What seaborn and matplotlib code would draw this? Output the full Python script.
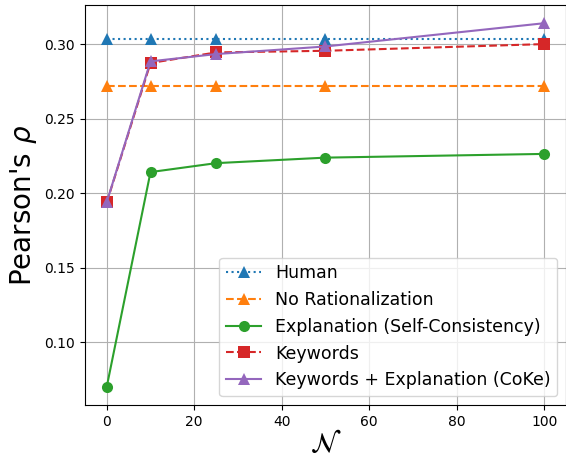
import pandas as pd
import matplotlib
matplotlib.use('Agg')
import matplotlib.pyplot as plt
import seaborn as sns

n_values = [0, 10, 25, 50, 100]

human = [0.3033, 0.3033, 0.3033, 0.3033, 0.3033]
no_rationalization = [0.2716, 0.2716, 0.2716, 0.2716, 0.2716]
explanation = [0.0701, 0.2141, 0.2201, 0.2238, 0.2263]
keywords = [0.1937, 0.2873, 0.2944, 0.2955, 0.3000]
coke = [0.1940, 0.2884, 0.2933, 0.2984, 0.3140]

series_names = [
    'Human',
    'No Rationalization',
    'Explanation (Self-Consistency)',
    'Keywords',
    'Keywords + Explanation (CoKe)',
]
series_values = [human, no_rationalization, explanation, keywords, coke]
series_styles = [
    (':', '^', 'C0'),
    ('--', '^', 'C1'),
    ('-', 'o', 'C2'),
    ('--', 's', 'C3'),
    ('-', '^', 'C4'),
]

fig, ax = plt.subplots(figsize=(5.66, 4.59), dpi=100)

for name, values, (ls, marker, color) in zip(series_names, series_values, series_styles):
    df = pd.DataFrame({'N': n_values, 'rho': values})
    sns.lineplot(
        data=df,
        x='N',
        y='rho',
        ax=ax,
        label=name,
        color=color,
        linestyle=ls,
        marker=marker,
        markersize=8,
        markeredgewidth=0,
        linewidth=1.5,
    )

ax.grid(True, color='#b0b0b0', linewidth=0.8)
ax.set_axisbelow(True)
ax.set_xlabel(r'$\mathcal{N}$', fontsize=20, labelpad=1)
ax.set_ylabel(r"Pearson's $\rho$", fontsize=20)
ax.set_yticks([0.10, 0.15, 0.20, 0.25, 0.30])
ax.legend(loc='lower right', fontsize=12.5)

plt.subplots_adjust(left=0.15, right=1.0, top=0.989, bottom=0.118)
plt.savefig('out.png', dpi=100)
